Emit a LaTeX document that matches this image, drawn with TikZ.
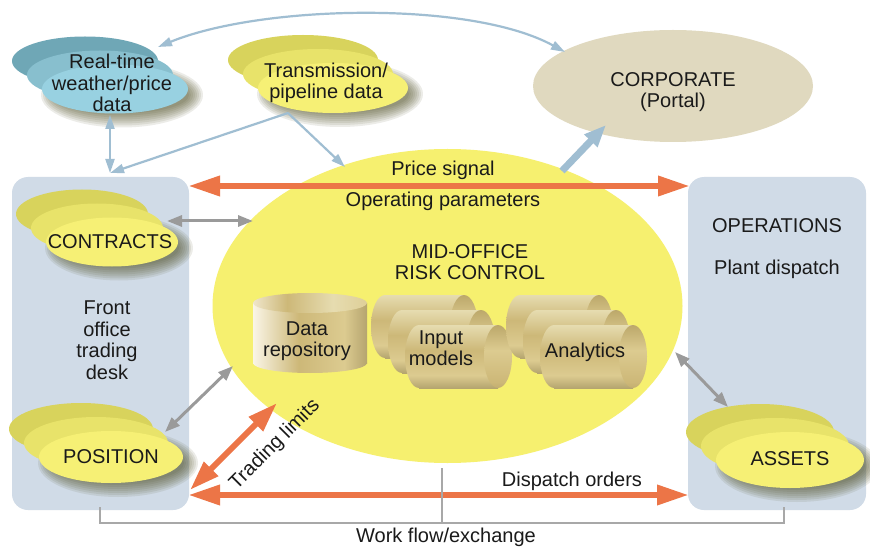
\documentclass[tikz,border=0pt]{standalone}
\usepackage{fontspec}
\setmainfont{Liberation Sans}
\usetikzlibrary{arrows.meta,shapes.geometric}

\definecolor{panelc}{HTML}{D0DBE7}
\definecolor{bigy}{HTML}{F6F06F}
\definecolor{corpc}{HTML}{E0D9BF}
\definecolor{orng}{HTML}{EC7547}
\definecolor{greyar}{HTML}{9A9A9A}
\definecolor{bluear}{HTML}{A0BED2}
\definecolor{ya}{HTML}{D8D35C}
\definecolor{yb}{HTML}{E8E36A}
\definecolor{yc}{HTML}{F6F075}
\definecolor{ba}{HTML}{6FA7B6}
\definecolor{bb}{HTML}{88BFCE}
\definecolor{bc}{HTML}{98D1E1}
\definecolor{shad}{HTML}{4A4A20}
\definecolor{txtc}{HTML}{1A1A1A}
\definecolor{linec}{HTML}{A8A8A8}
\definecolor{g1}{HTML}{B09A58}
\definecolor{g2}{HTML}{E6DCB0}
\definecolor{g3}{HTML}{FAF5E6}
\definecolor{g4}{HTML}{CDB878}
\definecolor{g5}{HTML}{DCCB90}
\definecolor{g6}{HTML}{8E7E4E}
\definecolor{g7}{HTML}{BCA86A}

\pgfdeclarehorizontalshading{goldh}{100bp}{color(0bp)=(g1); color(12bp)=(g2); color(25bp)=(g3); color(45bp)=(g4); color(65bp)=(g5); color(85bp)=(g6); color(100bp)=(g7)}
\pgfdeclarehorizontalshading{goldtop}{100bp}{color(0bp)=(g5); color(20bp)=(g3); color(40bp)=(g4); color(60bp)=(g2); color(80bp)=(g5); color(100bp)=(g6)}
\pgfdeclareverticalshading{goldv}{100bp}{color(0bp)=(g7); color(15bp)=(g6); color(35bp)=(g5); color(55bp)=(g4); color(75bp)=(g2); color(88bp)=(g3); color(100bp)=(g4)}
\pgfdeclareverticalshading{goldface}{100bp}{color(0bp)=(g6); color(30bp)=(g4); color(55bp)=(g5); color(75bp)=(g7); color(100bp)=(g4)}

\tikzset{
  txt/.style={text=txtc, font=\fontsize{20}{21.5}\selectfont, align=center, inner sep=0pt},
  blob/.style={ellipse, inner sep=0pt, draw=none},
  panelbox/.style={rectangle, rounded corners=16pt, fill=panelc, draw=none, inner sep=0pt},
  orarrow/.style={draw=orng, line width=6.5pt, {Triangle[length=32pt,width=19pt]}-{Triangle[length=32pt,width=19pt]}},
  grarrow/.style={draw=greyar, line width=3pt, {Triangle[length=15pt,width=11pt]}-{Triangle[length=15pt,width=11pt]}},
  blarrow/.style={draw=bluear, line width=2.2pt},
  bltip/.style={-{Triangle[length=14pt,width=9pt]}},
  blboth/.style={{Triangle[length=14pt,width=9pt]}-{Triangle[length=14pt,width=9pt]}},
  wfline/.style={draw=linec, line width=1.5pt}
}

% stack of three ellipses: name, cx, cy (front), rx, ry, colour prefix
\newcommand{\mystack}[6]{%
  \foreach \k in {0,...,7}{%
    \fill[shad, opacity=0.1] ({#2+7},{#3+6}) ellipse ({(#4+8-2*\k)*1pt} and {(#5+8-2*\k)*1pt});}
  \node[blob, minimum width={2*#4}, minimum height={2*#5}, fill=#6a] (#1a) at ({#2-30},{#3-28}) {};
  \node[blob, minimum width={2*#4}, minimum height={2*#5}, fill=#6b] (#1b) at ({#2-15},{#3-14}) {};
  \node[blob, minimum width={2*#4}, minimum height={2*#5}, fill=#6c] (#1c) at (#2,#3) {};
}
% horizontal cylinder: left cap centre x, right face centre x, centre y
\newcommand{\mycylh}[3]{%
  \shade[shading=goldv] (#1,#3) ellipse (14pt and 31.5pt);
  \shade[shading=goldv] (#1,{#3-31.5}) rectangle (#2,{#3+31.5});
  \shade[shading=goldface] (#2,#3) ellipse (14pt and 31.5pt);
}

\begin{document}
\begin{tikzpicture}[x=1pt,y=-1pt]
\useasboundingbox (0,0) rectangle (870,548);
\fill[white] (0,0) rectangle (870,548);

% panels
\node[panelbox, minimum width=177pt, minimum height=333pt] (front) at (100.5,343.5) {};
\node[panelbox, minimum width=178pt, minimum height=333pt] (ops) at (777,343.5) {};

% big ellipse and corporate
\node[blob, fill=bigy, minimum width=470pt, minimum height=314pt] (mid) at (447.5,306) {};
\node[blob, fill=corpc, minimum width=280pt, minimum height=112pt] (corp) at (673,86) {};

% stacks
\mystack{wthr}{115}{89}{73}{24.5}{b}
\mystack{trans}{333}{88}{75}{25}{y}
\mystack{contr}{112}{242}{66}{24.5}{y}
\mystack{posn}{111}{457}{72}{26}{y}
\mystack{asset}{790}{460}{74}{28}{y}

% data repository cylinder
\shade[shading=goldh] (310,363) ellipse (57pt and 10pt);
\shade[shading=goldh] (253,303) rectangle (367,363);
\shade[shading=goldtop] (310,303) ellipse (57pt and 10pt);
% input models
\mycylh{385}{464}{326.5}
\mycylh{402}{481}{341.5}
\mycylh{419}{498}{356.5}
% analytics
\mycylh{520}{599}{326.5}
\mycylh{537}{616}{341.5}
\mycylh{554}{633}{356.5}

% coordinates for connectors
\coordinate (psL) at (188,186);
\coordinate (psR) at (690,186);
\coordinate (doL) at (188,495);
\coordinate (doR) at (689,495);
\coordinate (tlA) at (190,490);
\coordinate (tlB) at (277,403);
\coordinate (gcA) at (167,221);
\coordinate (gcB) at (253,221);
\coordinate (gpA) at (165,432);
\coordinate (gpB) at (233,366);
\coordinate (gaA) at (675,352);
\coordinate (gaB) at (728,407);
\coordinate (cvA) at (565,52);
\coordinate (cvB) at (158,47);
\coordinate (wvA) at (110,115);
\coordinate (wvB) at (110,173);
\coordinate (trS) at (288,113);
\coordinate (trM) at (345,167);
\coordinate (tkA) at (562,171);
\coordinate (tkB) at (606,125);
\coordinate (wfa) at (100,507);
\coordinate (wfb) at (100,523);
\coordinate (wfc) at (784,523);
\coordinate (wfd) at (784,507);
\coordinate (wfm) at (442,468);
\coordinate (wfn) at (442,523);

% blue arrows
\draw[blarrow, blboth] (cvA) .. controls (470,0) and (260,5) .. (cvB);
\draw[blarrow, blboth] (wvA) -- (wvB);
\draw[blarrow, bltip] (trS) -- (wvB);
\draw[blarrow, bltip] (trS) -- (trM);
\draw[draw=bluear, line width=7pt, -{Triangle[length=22pt,width=17pt]}] (tkA) -- (tkB);

% orange arrows
\draw[orarrow] (psL) -- (psR);
\draw[orarrow] (doL) -- (doR);
\draw[draw=orng, line width=6pt, {Triangle[length=30pt,width=19pt]}-{Triangle[length=30pt,width=19pt]}] (tlA) -- (tlB);

% grey arrows
\draw[grarrow] (gcA) -- (gcB);
\draw[grarrow] (gpA) -- (gpB);
\draw[grarrow] (gaA) -- (gaB);

% work flow bracket
\draw[wfline] (wfa) -- (wfb) -- (wfc) -- (wfd);
\draw[wfline] (wfm) -- (wfn);

% texts
\node[txt] (t1) at (112,83) {Real-time\\weather/price\\data};
\node[txt] (t2) at (326,83) {Transmission/\\pipeline data};
\node[txt] (t3) at (673,92) {CORPORATE\\(Portal)};
\node[txt] (t4) at (443,170) {Price signal};
\node[txt] (t5) at (443,201) {Operating parameters};
\node[txt] (t6) at (470,262) {MID-OFFICE\\RISK CONTROL};
\node[txt] (t8) at (110,242) {CONTRACTS};
\node[txt] (t9) at (107,340) {Front\\office\\trading\\desk};
\node[txt] (t10) at (111,457) {POSITION};
\node[txt] (t11) at (790,459) {ASSETS};
\node[txt] (t12) at (777,226) {OPERATIONS};
\node[txt] (t13) at (777,269) {Plant dispatch};
\node[txt] (t14) at (307,341) {Data\\repository};
\node[txt] (t15) at (441,348) {Input\\models};
\node[txt] (t16) at (585,352) {Analytics};
\node[txt] (t17) at (572,481) {Dispatch orders};
\node[txt] (t18) at (446,537) {Work flow/exchange};
\node[txt, rotate=45] (t19) at (275,445) {Trading limits};
\end{tikzpicture}
\end{document}
